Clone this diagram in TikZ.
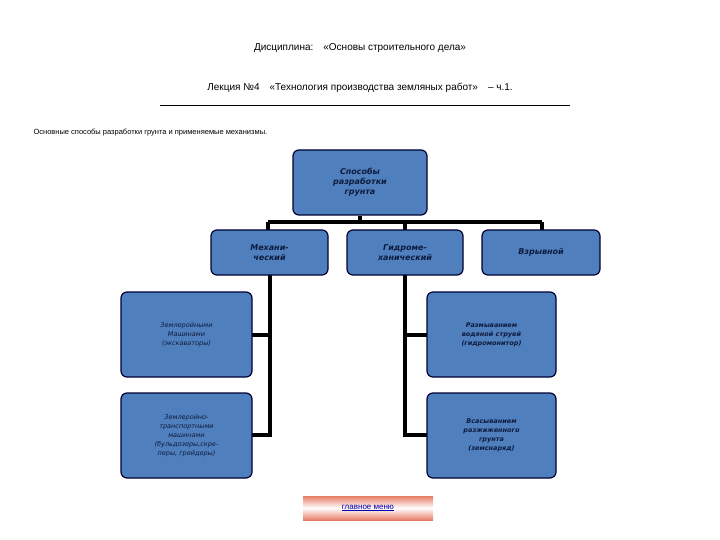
\documentclass[tikz,border=0pt]{standalone}
\usepackage{fontspec}
\setmainfont{Liberation Sans}
\newfontfamily\boxfont{DejaVu Sans}
\begin{document}
\begin{tikzpicture}[x=1pt,y=-1pt,
 bx/.style={draw=black!80!blue,line width=1.2pt,fill=boxblue,rounded corners=6pt,align=center,
   font=\boxfont\bfseries\itshape\fontsize{8}{10}\selectfont,text=navytext,inner sep=2pt},
 sbx/.style={bx,font=\boxfont\itshape\fontsize{6.5}{9}\selectfont},
 conn/.style={line width=3.5pt}]
\definecolor{boxblue}{HTML}{4F7FBC}
\definecolor{navytext}{HTML}{0D1B3E}
\useasboundingbox (0,0) rectangle (720,540);
\node (t1) at (360,48) {\fontsize{10}{12}\selectfont Дисциплина:\quad «Основы строительного дела»};
\node (t2) at (360,88) {\fontsize{10}{12}\selectfont Лекция №4\quad «Технология производства земляных работ»\quad – ч.1.};
\coordinate (l1) at (160,105); \coordinate (l2) at (570,105);
\draw[line width=0.5pt] (l1) -- (l2);
\node[anchor=west,font=\fontsize{7.5}{9}\selectfont] (st) at (30,133) {Основные способы разработки грунта и применяемые механизмы.};
% bars (drawn first)
\coordinate (b1) at (268,222); \coordinate (b2) at (542,222);
\coordinate (tb) at (360,222);
\draw[conn] (b1) -- (b2);
\draw[conn] (b1) -- (268,232);
\draw[conn] (b2) -- (542,232);
\draw[conn] (405,222) -- (405,232);
\draw[conn] (270,275) -- (270,435) -- (252,435);
\draw[conn] (270,335) -- (252,335);
\draw[conn] (405,275) -- (405,435) -- (427,435);
\draw[conn] (405,335) -- (427,335);
\node[bx,minimum width=134pt,minimum height=65pt] (top) at (360,182.5) {Способы\\разработки\\грунта};
\draw[conn] (top.south) -- (tb);
\node[bx,minimum width=117pt,minimum height=45pt] (m) at (269.5,252.5) {Механи-\\ческий};
\node[bx,minimum width=116pt,minimum height=45pt] (g) at (405,252.5) {Гидроме-\\ханический};
\node[bx,minimum width=118pt,minimum height=45pt] (v) at (541,252.5) {Взрывной};
\node[sbx,minimum width=131pt,minimum height=85pt] (l1b) at (186.5,334.5) {Землеройными\\Машинами\\(экскаваторы)};
\node[sbx,minimum width=131pt,minimum height=85pt] (l2b) at (186.5,435.5) {Землеройно-\\транспортными\\машинами\\(бульдозеры,скре-\\перы, грейдеры)};
\node[bx,font=\boxfont\bfseries\itshape\fontsize{6.5}{9}\selectfont,minimum width=129pt,minimum height=85pt] (r1b) at (491.5,334.5) {Размыванием\\водяной струей\\(гидромонитор)};
\node[bx,font=\boxfont\bfseries\itshape\fontsize{6.5}{9}\selectfont,minimum width=129pt,minimum height=85pt] (r2b) at (491.5,435.5) {Всасыванием\\разжиженного\\грунта\\(земснаряд)};
\node[minimum width=130pt,minimum height=24pt,inner sep=0pt,
  top color=red!45!brown!70,bottom color=red!45!brown!70,middle color=white,
  font=\fontsize{8}{10}\selectfont,text=blue!70!black] (menu) at (368,508) {\underline{главное меню}};
\end{tikzpicture}
\end{document}
